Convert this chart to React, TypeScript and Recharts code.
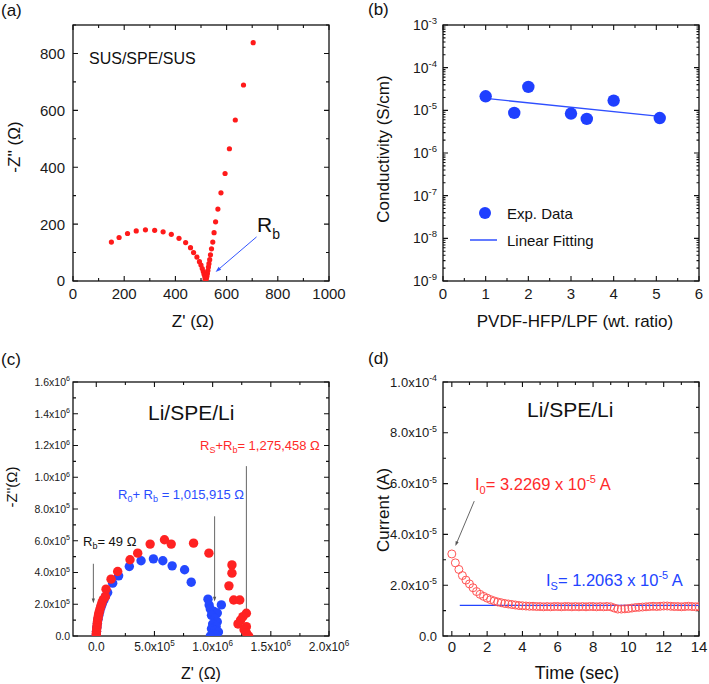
import React from 'react';
import { ScatterChart, Scatter, XAxis, YAxis, ReferenceLine } from 'recharts';

const FONT = '"Liberation Sans", Arial, Helvetica, sans-serif';
const RED = '#FF1A1A';
const BLUE = '#1F3FFF';

// ---------------- (a) Nyquist SUS/SPE/SUS (ohm) ----------------
const aZre = [150, 180, 213, 247, 283, 319, 352, 384, 414, 440, 459, 471, 484, 494, 500, 505, 509, 512, 515, 518, 516, 519, 521, 523, 525, 527, 529, 531, 534, 537, 541, 546, 551, 557, 566, 578, 594, 611, 634, 666, 704];
const aZim = [137, 153, 167, 176, 180, 178, 173, 164, 150, 135, 117, 100, 84, 68, 56, 44, 33, 24, 16, 10, 7, 5, 9, 17, 26, 37, 49, 61, 75, 92, 113, 137, 170, 208, 253, 310, 378, 465, 566, 689, 838];
const aXTicks = [0, 100, 200, 300, 400, 500, 600, 700, 800, 900, 1000];
const aXMajor = [0, 200, 400, 600, 800, 1000];
const aXLabels = ['0', '200', '400', '600', '800', '1000'];
const aYTicks = [0, 100, 200, 300, 400, 500, 600, 700, 800, 900];
const aYMajor = [0, 200, 400, 600, 800];
const aYLabels = ['0', '200', '400', '600', '800'];
const aArrowX = [717, 557];
const aArrowY = [155, 32];

// ---------------- (b) Conductivity ----------------
const bRatio = [1.0, 1.67, 2.0, 3.0, 3.37, 4.0, 5.08];
const bCond = [2.13e-5, 8.7e-6, 3.54e-5, 8.4e-6, 6.3e-6, 1.69e-5, 6.6e-6];
const bFitX = [1.0, 5.08];
const bFitY = [1.9e-5, 7.2e-6];
const bXTicks = [0, 0.5, 1, 1.5, 2, 2.5, 3, 3.5, 4, 4.5, 5, 5.5, 6];
const bXMajor = [0, 1, 2, 3, 4, 5, 6];
const bXLabels = ['0', '1', '2', '3', '4', '5', '6'];
const bYMajor = [1e-9, 1e-8, 1e-7, 1e-6, 1e-5, 1e-4, 1e-3];
const bYLabels = ['-9', '-8', '-7', '-6', '-5', '-4', '-3'];
const bMinorMult = [2, 3, 4, 5, 6, 7, 8, 9];

// ---------------- (c) Nyquist Li/SPE/Li (units of 1e5 ohm) ----------------
const cBlueRe = [0.0, 0.02, 0.05, 0.1, 0.15, 0.22, 0.3, 0.4, 0.5, 0.65, 0.8, 0.98, 1.41, 1.92, 2.84, 3.85, 4.91, 5.72, 6.52, 7.59, 8.16, 9.6, 9.7, 9.8, 10.1, 10.75, 10.4, 9.9, 10.2, 10.4, 10.0, 10.3, 9.9, 10.2, 10.5, 10.0, 10.3, 9.8];
const cBlueIm = [0.05, 0.3, 0.55, 0.8, 1.05, 1.3, 1.55, 1.8, 2.0, 2.25, 2.5, 2.74, 3.33, 3.79, 4.38, 4.74, 4.86, 4.74, 4.42, 4.17, 3.39, 2.32, 1.95, 1.7, 1.55, 1.96, 1.45, 1.3, 1.1, 0.9, 0.75, 0.6, 0.45, 0.35, 0.25, 0.15, 0.05, 0.0];
const cRedRe = [0.0, 0.0, 0.02, 0.04, 0.06, 0.08, 0.1, 0.13, 0.16, 0.2, 0.25, 0.32, 0.4, 0.49, 0.6, 0.78, 0.84, 1.27, 1.84, 2.9, 3.56, 4.63, 5.86, 6.44, 8.36, 9.68, 11.66, 11.66, 11.4, 11.81, 12.33, 12.9, 12.6, 12.4, 12.18, 12.9, 12.7, 12.9, 13.1];
const cRedIm = [0.0, 0.15, 0.3, 0.45, 0.6, 0.75, 0.9, 1.05, 1.2, 1.35, 1.5, 1.7, 1.9, 2.1, 2.3, 2.48, 2.95, 3.58, 4.06, 4.8, 5.22, 5.79, 6.06, 5.79, 5.85, 5.22, 4.48, 3.96, 3.16, 2.27, 2.27, 1.43, 1.22, 1.0, 0.76, 0.59, 0.4, 0.2, 0.0];
const cXTicks = [0, 2.5, 5, 7.5, 10, 12.5, 15, 17.5, 20];
const cXMajor = [0, 5, 10, 15, 20];
const cXLabels = [{ b: '0.0' }, { b: '5.0x10', e: '5' }, { b: '1.0x10', e: '6' }, { b: '1.5x10', e: '6' }, { b: '2.0x10', e: '6' }];
const cYTicks = [0, 1, 2, 3, 4, 5, 6, 7, 8, 9, 10, 11, 12, 13, 14, 15, 16];
const cYMajor = [0, 2, 4, 6, 8, 10, 12, 14, 16];
const cYLabels = [{ b: '0.0' }, { b: '2.0x10', e: '5' }, { b: '4.0x10', e: '5' }, { b: '6.0x10', e: '5' }, { b: '8.0x10', e: '5' }, { b: '1.0x10', e: '6' }, { b: '1.2x10', e: '6' }, { b: '1.4x10', e: '6' }, { b: '1.6x10', e: '6' }];
const cArrowsX = [-0.25, 10.17, 12.9];
const cArrowsTop = [4.55, 7.54, 10.7];
const cArrowsBottom = [2.07, 2.17, 1.33];

// ---------------- (d) Chronoamperometry (units of 1e-5 A) ----------------
const dTime = [0, 0.2, 0.4, 0.6, 0.8, 1.0, 1.2, 1.4, 1.6, 1.8, 2.0, 2.2, 2.4, 2.6, 2.8, 3.0, 3.2, 3.4, 3.6, 3.8, 4.0, 4.2, 4.4, 4.6, 4.8, 5.0, 5.2, 5.4, 5.6, 5.8, 6.0, 6.2, 6.4, 6.6, 6.8, 7.0, 7.2, 7.4, 7.6, 7.8, 8.0, 8.2, 8.4, 8.6, 8.8, 9.0, 9.2, 9.4, 9.6, 9.8, 10.0, 10.2, 10.4, 10.6, 10.8, 11.0, 11.2, 11.4, 11.6, 11.8, 12.0, 12.2, 12.4, 12.6, 12.8, 13.0, 13.2, 13.4, 13.6, 13.8, 14.0];
const dCurrent = [3.23, 2.88, 2.62, 2.38, 2.2, 2.05, 1.9, 1.75, 1.64, 1.56, 1.49, 1.43, 1.38, 1.34, 1.31, 1.28, 1.26, 1.24, 1.22, 1.2, 1.19, 1.18, 1.17, 1.17, 1.16, 1.16, 1.15, 1.16, 1.15, 1.16, 1.16, 1.15, 1.16, 1.16, 1.15, 1.16, 1.15, 1.16, 1.15, 1.16, 1.16, 1.15, 1.16, 1.15, 1.16, 1.15, 1.1, 1.06, 1.06, 1.07, 1.08, 1.1, 1.12, 1.13, 1.14, 1.15, 1.16, 1.17, 1.16, 1.17, 1.18, 1.18, 1.17, 1.16, 1.16, 1.15, 1.16, 1.17, 1.16, 1.15, 1.16];
const dIsX = [0.45, 14];
const dIsY = [1.2063, 1.2063];
const dXTicks = [0, 1, 2, 3, 4, 5, 6, 7, 8, 9, 10, 11, 12, 13, 14];
const dXMajor = [0, 2, 4, 6, 8, 10, 12, 14];
const dXLabels = ['0', '2', '4', '6', '8', '10', '12', '14'];
const dYTicks = [0, 1, 2, 3, 4, 5, 6, 7, 8, 9, 10];
const dYMajor = [0, 2, 4, 6, 8, 10];
const dYLabels = [{ b: '0.0' }, { b: '2.0x10', e: '-5' }, { b: '4.0x10', e: '-5' }, { b: '6.0x10', e: '-5' }, { b: '8.0x10', e: '-5' }, { b: '1.0x10', e: '-4' }];
const dArrowX = [1.27, 0.2];
const dArrowY = [5.31, 3.54];

// ---------------- helpers ----------------
const zip = (xs: number[], ys: number[]) => xs.map((x, i) => ({ x, y: ys[i] }));
type Lbl = { b: string; e?: string };
const same = (a: number, b: number) => Math.abs(a - b) <= Math.max(Math.abs(a), Math.abs(b)) * 1e-6 + 1e-12;
const isMajor = (majors: number[], v: number) => majors.some((m) => same(m, v));
const strLabels = (arr: string[]): Lbl[] => arr.map((b) => ({ b }));

function makeLabel(side: 'bottom' | 'left', majors: number[], labels: Lbl[], fs: number, gap: number) {
  return (props: any) => {
    const { x, y, payload } = props;
    const idx = majors.findIndex((m) => same(m, payload.value));
    if (idx < 0) return <g />;
    const L = labels[idx];
    const parts: any[] = [<tspan key="b">{L.b}</tspan>];
    if (L.e) parts.push(<tspan key="e" dy={-fs * 0.42} fontSize={fs * 0.68}>{L.e}</tspan>);
    if (side === 'bottom') return <text x={x} y={y + gap} textAnchor="middle" fontSize={fs} fontFamily={FONT} fill="#1a1a1a">{parts}</text>;
    return <text x={x - gap} y={y + fs * 0.36} textAnchor="end" fontSize={fs} fontFamily={FONT} fill="#1a1a1a">{parts}</text>;
  };
}

// Box + inward ticks drawn from the tick arrays through the chart scales
const vTicks = (len: number) => (p: any) => {
  const top = Math.min(p.y1, p.y2);
  const bot = Math.max(p.y1, p.y2);
  return <path d={`M${p.x1} ${bot} L${p.x1} ${bot - len} M${p.x1} ${top} L${p.x1} ${top + len}`} stroke="#111" strokeWidth={1.1} fill="none" />;
};
const hTicks = (len: number) => (p: any) => {
  const l = Math.min(p.x1, p.x2);
  const r = Math.max(p.x1, p.x2);
  return <path d={`M${l} ${p.y1} L${l + len} ${p.y1} M${r} ${p.y1} L${r - len} ${p.y1}`} stroke="#111" strokeWidth={1.1} fill="none" />;
};
const boxShape = (p: any) => {
  const x = Math.min(p.x1, p.x2);
  const y = Math.min(p.y1, p.y2);
  return <rect x={x} y={y} width={Math.abs(p.x2 - p.x1)} height={Math.abs(p.y2 - p.y1)} fill="none" stroke="#111" strokeWidth={1.3} />;
};

function boxAndTicks(xd: [number, number], yd: [number, number], xTicks: number[], xMajor: number[], yTicks: number[], yMajor: number[], yMinorLen = 3) {
  const out: any[] = [];
  xTicks.forEach((v, i) => out.push(<ReferenceLine key={`xt${i}`} segment={[{ x: v, y: yd[0] }, { x: v, y: yd[1] }]} ifOverflow="visible" shape={vTicks(isMajor(xMajor, v) ? 5 : 3)} />));
  yTicks.forEach((v, i) => out.push(<ReferenceLine key={`yt${i}`} segment={[{ x: xd[0], y: v }, { x: xd[1], y: v }]} ifOverflow="visible" shape={hTicks(isMajor(yMajor, v) ? 5 : yMinorLen)} />));
  out.push(<ReferenceLine key="box" segment={[{ x: xd[0], y: yd[0] }, { x: xd[1], y: yd[1] }]} ifOverflow="visible" shape={boxShape} />);
  return out;
}

function arrowShape(color: string, head = 6, width = 1) {
  return (p: any) => {
    const { x1, y1, x2, y2 } = p;
    const ang = Math.atan2(y2 - y1, x2 - x1);
    const a1 = ang + Math.PI - 0.33;
    const a2 = ang + Math.PI + 0.33;
    const pts = `${x2},${y2} ${x2 + head * Math.cos(a1)},${y2 + head * Math.sin(a1)} ${x2 + head * Math.cos(a2)},${y2 + head * Math.sin(a2)}`;
    return (
      <g>
        <line x1={x1} y1={y1} x2={x2 - head * 0.6 * Math.cos(ang)} y2={y2 - head * 0.6 * Math.sin(ang)} stroke={color} strokeWidth={width} />
        <polygon points={pts} fill={color} />
      </g>
    );
  };
}

const axisCommon = { type: 'number' as const, allowDataOverflow: true, interval: 0 as const, tickSize: 0, tickMargin: 0, axisLine: false, tickLine: false };

// ---------------- Panels ----------------
function PanelA() {
  return (
    <ScatterChart width={354} height={340} margin={{ left: 72, right: 25, top: 25, bottom: 58 }}>
      <XAxis dataKey="x" {...axisCommon} domain={[0, 1000]} ticks={aXTicks} height={1} tick={makeLabel('bottom', aXMajor, strLabels(aXLabels), 15, 18)} />
      <YAxis dataKey="y" {...axisCommon} domain={[0, 900]} ticks={aYTicks} width={1} tick={makeLabel('left', aYMajor, strLabels(aYLabels), 15, 8)} />
      <Scatter data={zip(aZre, aZim)} isAnimationActive={false} shape={(p: any) => <circle cx={p.cx} cy={p.cy} r={2.6} fill={RED} />} />
      <ReferenceLine segment={[{ x: aArrowX[0], y: aArrowY[0] }, { x: aArrowX[1], y: aArrowY[1] }]} ifOverflow="visible" shape={arrowShape('#3355FF', 6, 1)} />
      {boxAndTicks([0, 1000], [0, 900], aXTicks, aXMajor, aYTicks, aYMajor)}
    </ScatterChart>
  );
}

const bYTicks: number[] = [];
bYMajor.forEach((d, i) => {
  bYTicks.push(d);
  if (i < bYMajor.length - 1) bMinorMult.forEach((m) => bYTicks.push(m * d));
});

function PanelB() {
  return (
    <ScatterChart width={355} height={340} margin={{ left: 88, right: 10, top: 25, bottom: 58 }}>
      <XAxis dataKey="x" {...axisCommon} domain={[0, 6]} ticks={bXTicks} height={1} tick={makeLabel('bottom', bXMajor, strLabels(bXLabels), 15, 18)} />
      <YAxis dataKey="y" {...axisCommon} scale="log" domain={[1e-9, 1e-3]} ticks={bYTicks} width={1} tick={makeLabel('left', bYMajor, bYLabels.map((e) => ({ b: '10', e })), 14, 6)} />
      <Scatter data={zip(bFitX, bFitY)} isAnimationActive={false} line={{ stroke: '#2F4FFF', strokeWidth: 1.3 }} shape={() => <g />} />
      <Scatter data={zip(bRatio, bCond)} isAnimationActive={false} shape={(p: any) => <circle cx={p.cx} cy={p.cy} r={6.2} fill={BLUE} />} />
      {boxAndTicks([0, 6], [1e-9, 1e-3], bXTicks, bXMajor, bYTicks, bYMajor, 2.5)}
    </ScatterChart>
  );
}

function PanelC() {
  return (
    <ScatterChart width={354} height={342} margin={{ left: 72, right: 25, top: 40, bottom: 47 }}>
      <XAxis dataKey="x" {...axisCommon} domain={[-2, 20]} ticks={cXTicks} height={1} tick={makeLabel('bottom', cXMajor, cXLabels, 12, 15)} />
      <YAxis dataKey="y" {...axisCommon} domain={[0, 16]} ticks={cYTicks} width={1} tick={makeLabel('left', cYMajor, cYLabels, 10.5, 3)} />
      <Scatter data={zip(cBlueRe, cBlueIm)} isAnimationActive={false} shape={(p: any) => <circle cx={p.cx} cy={p.cy} r={4.7} fill="#2448FF" />} />
      <Scatter data={zip(cRedRe, cRedIm)} isAnimationActive={false} shape={(p: any) => <circle cx={p.cx} cy={p.cy} r={4.7} fill="#FF2222" />} />
      {cArrowsX.map((ax, i) => (
        <ReferenceLine key={`ar${i}`} segment={[{ x: ax, y: cArrowsTop[i] }, { x: ax, y: cArrowsBottom[i] }]} ifOverflow="visible" shape={arrowShape('#555555', 5, 0.9)} />
      ))}
      {boxAndTicks([-2, 20], [0, 16], cXTicks, cXMajor, cYTicks, cYMajor)}
    </ScatterChart>
  );
}

function PanelD() {
  return (
    <ScatterChart width={355} height={342} margin={{ left: 88, right: 10, top: 40, bottom: 47 }}>
      <XAxis dataKey="x" {...axisCommon} domain={[-0.5, 14]} ticks={dXTicks} height={1} tick={makeLabel('bottom', dXMajor, strLabels(dXLabels), 15, 16)} />
      <YAxis dataKey="y" {...axisCommon} domain={[0, 10]} ticks={dYTicks} width={1} tick={makeLabel('left', dYMajor, dYLabels, 13, 6)} />
      <Scatter data={zip(dIsX, dIsY)} isAnimationActive={false} line={{ stroke: '#2244FF', strokeWidth: 1.4 }} shape={() => <g />} />
      <Scatter data={zip(dTime, dCurrent)} isAnimationActive={false} shape={(p: any) => <circle cx={p.cx} cy={p.cy} r={4} fill="none" stroke="#FF5555" strokeWidth={1} />} />
      <ReferenceLine segment={[{ x: dArrowX[0], y: dArrowY[0] }, { x: dArrowX[1], y: dArrowY[1] }]} ifOverflow="visible" shape={arrowShape('#555555', 5, 0.9)} />
      {boxAndTicks([-0.5, 14], [0, 10], dXTicks, dXMajor, dYTicks, dYMajor)}
    </ScatterChart>
  );
}

function Overlay() {
  const t = { fontFamily: FONT, fill: '#111' };
  return (
    <svg width={709} height={684} style={{ position: 'absolute', left: 0, top: 0, pointerEvents: 'none' }}>
      <text x={1} y={16} fontSize={17} {...t}>(a)</text>
      <text x={368} y={15} fontSize={17} {...t}>(b)</text>
      <text x={1} y={365} fontSize={17} {...t}>(c)</text>
      <text x={368} y={364} fontSize={17} {...t}>(d)</text>

      <text x={89} y={64} fontSize={16} {...t}>SUS/SPE/SUS</text>
      <text x={257} y={232} fontSize={21} {...t}>R<tspan dy={7} fontSize={14}>b</tspan></text>
      <text x={193} y={327} fontSize={17} textAnchor="middle" {...t}>Z' (Ω)</text>
      <text transform="translate(20,147) rotate(-90)" fontSize={17} textAnchor="middle" {...t}>-Z'' (Ω)</text>

      <circle cx={485} cy={213} r={6} fill={BLUE} />
      <text x={507} y={218.5} fontSize={15} {...t}>Exp. Data</text>
      <line x1={470} y1={240} x2={497} y2={240} stroke="#2F4FFF" strokeWidth={1.5} />
      <text x={507} y={245.5} fontSize={15} {...t}>Linear Fitting</text>
      <text x={575} y={327} fontSize={17} textAnchor="middle" {...t}>PVDF-HFP/LPF (wt. ratio)</text>
      <text transform="translate(389,149) rotate(-90)" fontSize={17} textAnchor="middle" {...t}>Conductivity (S/cm)</text>

      <text x={148} y={420} fontSize={21} {...t}>Li/SPE/Li</text>
      <text x={200} y={450} fontSize={13} fontFamily={FONT} fill="#FF2A2A">R<tspan dy={3} fontSize={9}>S</tspan><tspan dy={-3}>+R</tspan><tspan dy={3} fontSize={9}>b</tspan><tspan dy={-3}>= 1,275,458 Ω</tspan></text>
      <text x={118} y={499} fontSize={13} fontFamily={FONT} fill="#2A4CFF">R<tspan dy={3} fontSize={9}>0</tspan><tspan dy={-3}>+ R</tspan><tspan dy={3} fontSize={9}>b</tspan><tspan dy={-3}> = 1,015,915 Ω</tspan></text>
      <text x={83} y={546} fontSize={13} {...t}>R<tspan dy={3} fontSize={9}>b</tspan><tspan dy={-3}>= 49 Ω</tspan></text>
      <text x={201} y={679} fontSize={16} textAnchor="middle" {...t}>Z' (Ω)</text>
      <text transform="translate(17,487) rotate(-90)" fontSize={15} textAnchor="middle" {...t}>-Z''(Ω)</text>

      <text x={527} y={417} fontSize={21} {...t}>Li/SPE/Li</text>
      <text x={475} y={490} fontSize={16.5} fontFamily={FONT} fill="#FF2A2A">I<tspan dy={4} fontSize={11}>0</tspan><tspan dy={-4}>= 3.2269 x 10</tspan><tspan dy={-7} fontSize={11}>-5</tspan><tspan dy={7}> A</tspan></text>
      <text x={546} y={586} fontSize={16.5} fontFamily={FONT} fill="#2244FF">I<tspan dy={4} fontSize={11}>S</tspan><tspan dy={-4}>= 1.2063 x 10</tspan><tspan dy={-7} fontSize={11}>-5</tspan><tspan dy={7}> A</tspan></text>
      <text x={577} y={679} fontSize={18} textAnchor="middle" {...t}>Time (sec)</text>
      <text transform="translate(389,510) rotate(-90)" fontSize={17} textAnchor="middle" {...t}>Current (A)</text>
    </svg>
  );
}

export default function App() {
  return (
    <div style={{ position: 'absolute', left: 0, top: 0, width: 709, height: 684, background: '#fff', overflow: 'hidden', fontFamily: FONT }}>
      <div style={{ position: 'absolute', left: 0, top: 0 }}><PanelA /></div>
      <div style={{ position: 'absolute', left: 354, top: 0 }}><PanelB /></div>
      <div style={{ position: 'absolute', left: 0, top: 342 }}><PanelC /></div>
      <div style={{ position: 'absolute', left: 354, top: 342 }}><PanelD /></div>
      <Overlay />
    </div>
  );
}
